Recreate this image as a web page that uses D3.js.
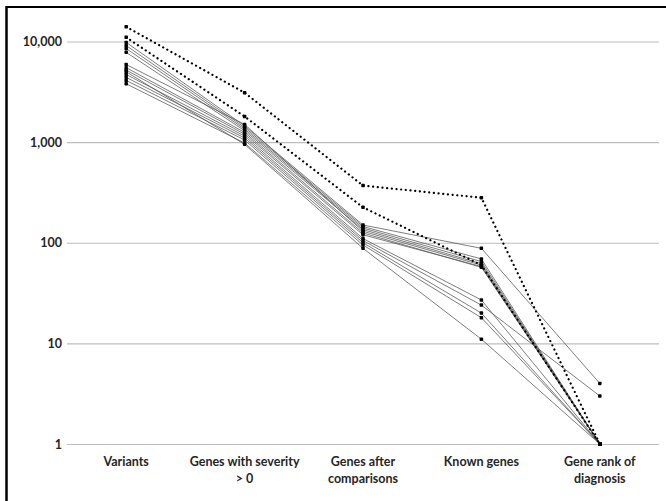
<!DOCTYPE html>
<html>
<head>
<meta charset="utf-8">
<script src="https://cdn.jsdelivr.net/npm/d3@7"></script>
<style>
    body { margin: 0; background: #fff; }
    svg { display: block; }
</style>
</head>
<body>
<svg id="chart" width="666" height="501"></svg>
<script>
(function () {
    'use strict';

    // categories along the x axis (two lines where the label wraps)
    const steps = ["Variants", "Genes with severity > 0", "Genes after comparisons", "Known genes", "Gene rank of diagnosis"];
    const stepLines = [["Variants"], ["Genes with severity", "> 0"], ["Genes after", "comparisons"], ["Known genes"], ["Gene rank of", "diagnosis"]];
    const yTicks = [1, 10, 100, 1000, 10000];

    // dotted cases
    const dotted1 = [14000, 3100, 370, 280, 1];
    const dotted2 = [11000, 1800, 225, 60, 1];

    // solid cases
    const case1 = [9800, 1450, 150, 88, 4];
    const case2 = [9100, 1400, 145, 69, 1];
    const case3 = [8500, 1350, 140, 65, 1];
    const case4 = [7800, 1300, 135, 62, 1];
    const case5 = [5900, 1500, 130, 60, 1];
    const case6 = [5500, 1250, 125, 57, 1];
    const case7 = [5200, 1200, 120, 58, 1];
    const case8 = [4700, 1150, 110, 27, 1];
    const case9 = [4400, 1100, 105, 24, 3];
    const case10 = [4100, 1050, 100, 20, 1];
    const case11 = [3800, 980, 95, 18, 1];
    const case12 = [5000, 950, 88, 11, 1];

    const solid = [case1, case2, case3, case4, case5, case6, case7, case8, case9, case10, case11, case12];
    const dotted = [dotted1, dotted2];

    const svg = d3.select("#chart");
    const font = "Lato, 'Open Sans', sans-serif";
    const textColor = "#262626";

    // frame (top and left edges visible)
    svg.append("line").attr("x1", 6).attr("x2", 666).attr("y1", 7).attr("y2", 7)
        .attr("stroke", "#000").attr("stroke-width", 2);
    svg.append("line").attr("x1", 6.5).attr("x2", 6.5).attr("y1", 6).attr("y2", 501)
        .attr("stroke", "#000").attr("stroke-width", 2.5);

    const x = d3.scaleBand().domain(steps).range([67, 659]);
    const y = d3.scaleLog().domain([1, 10000]).range([444, 41.5]);
    const cx = d => x(d) + x.bandwidth() / 2;

    // grid + y labels
    const yAxis = svg.append("g")
        .attr("transform", "translate(67,0)")
        .call(d3.axisLeft(y).tickValues(yTicks).tickFormat(d3.format(",")).tickSize(-592).tickPadding(5));
    yAxis.select(".domain").remove();
    yAxis.selectAll(".tick line").attr("stroke", "#bdbdbd").attr("stroke-width", 1.2);
    yAxis.selectAll(".tick text")
        .attr("fill", textColor).attr("font-family", font).attr("font-weight", "bold").attr("font-size", 12.5);

    // x labels
    const xl = svg.append("g")
        .selectAll("text")
        .data(steps)
        .join("text")
        .attr("x", cx)
        .attr("y", 466)
        .attr("text-anchor", "middle")
        .attr("fill", textColor)
        .attr("font-family", font)
        .attr("font-weight", "bold")
        .attr("font-size", 12.5);
    xl.each(function (d, i) {
        d3.select(this).selectAll("tspan")
            .data(stepLines[i])
            .join("tspan")
            .attr("x", cx(d))
            .attr("dy", (t, j) => j === 0 ? 0 : 17)
            .text(t => t);
    });

    const line = d3.line()
        .x((d, i) => cx(steps[i]))
        .y(d => y(d));

    const lines = svg.append("g").attr("fill", "none");
    lines.selectAll("path.solid")
        .data(solid)
        .join("path")
        .attr("class", "solid")
        .attr("d", line)
        .attr("stroke", "#555")
        .attr("stroke-opacity", 0.85)
        .attr("stroke-width", 0.9);

    lines.selectAll("path.dotted")
        .data(dotted)
        .join("path")
        .attr("class", "dotted")
        .attr("d", line)
        .attr("stroke", "#000")
        .attr("stroke-width", 2.2)
        .attr("stroke-linecap", "round")
        .attr("stroke-dasharray", "0.1 4.6");

    // markers
    const all = solid.concat(dotted);
    const pts = [];
    all.forEach(s => s.forEach((v, i) => pts.push([steps[i], v])));
    svg.append("g")
        .selectAll("rect")
        .data(pts)
        .join("rect")
        .attr("x", d => cx(d[0]) - 1.75)
        .attr("y", d => y(d[1]) - 1.75)
        .attr("width", 3.5)
        .attr("height", 3.5)
        .attr("rx", 0.8)
        .attr("fill", "#000");
}());
</script>
</body>
</html>
